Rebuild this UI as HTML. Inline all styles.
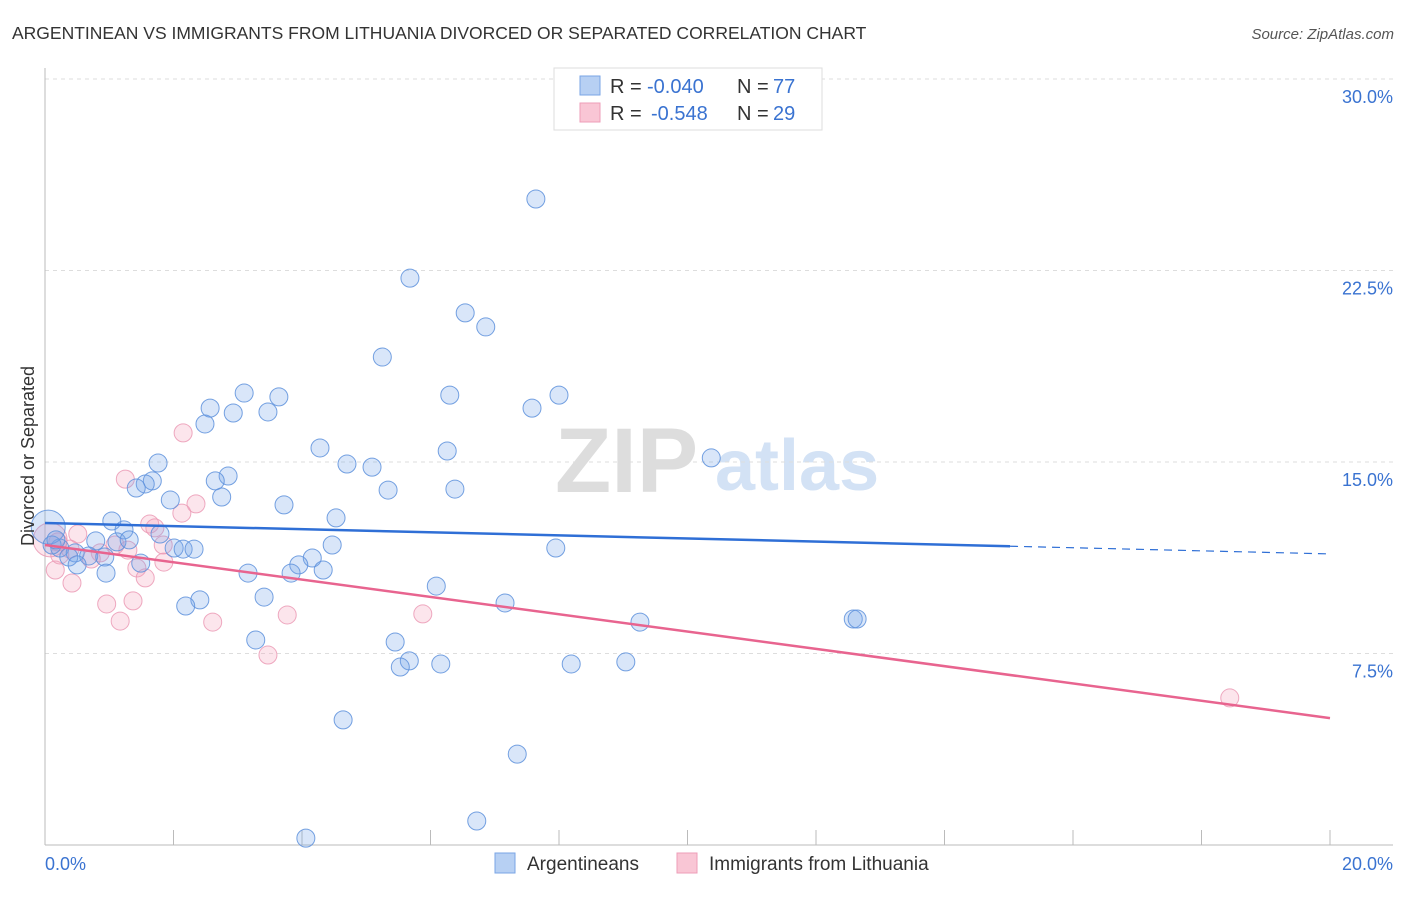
<!DOCTYPE html>
<html><head><meta charset="utf-8"><style>
body{margin:0;background:#fff;font-family:"Liberation Sans",sans-serif}
svg text{font-family:"Liberation Sans",sans-serif}
</style></head><body>
<svg width="1406" height="892" viewBox="0 0 1406 892" id="chart">
<text x="12" y="39" font-size="17.5" fill="#333">ARGENTINEAN VS IMMIGRANTS FROM LITHUANIA DIVORCED OR SEPARATED CORRELATION CHART</text>
<text x="1394" y="39" font-size="15" fill="#555" text-anchor="end" font-style="italic">Source: ZipAtlas.com</text>
<g>
<text x="555" y="492" font-size="92" fill="#ddd" font-family="Liberation Serif,serif" font-weight="bold">ZIP</text>
<text x="715" y="490" font-size="72" fill="#d3e2f5" font-weight="bold">atlas</text>
</g>
<g id="grid"></g>
<g id="axes"></g>
<g id="pts"></g>
<g id="lines"></g>
<text transform="translate(34,456) rotate(-90)" font-size="18" fill="#333" text-anchor="middle">Divorced or Separated</text>
<text x="45" y="870" font-size="18" fill="#3a73d1">0.0%</text>
<text x="1393" y="870" font-size="18" fill="#3a73d1" text-anchor="end">20.0%</text>
<g>
<rect x="554" y="68" width="268" height="62" fill="#fff" stroke="#ddd"/>
<rect x="580" y="76" width="20" height="19" fill="#b7d0f3" stroke="#7aa5e6"/>
<rect x="580" y="103" width="20" height="19" fill="#f9c6d5" stroke="#ee9db8"/>
<text x="610" y="93" font-size="20" fill="#333">R =</text>
<text x="647" y="93" font-size="20" fill="#3a73d1">-0.040</text>
<text x="737" y="93" font-size="20" fill="#333">N =</text>
<text x="773" y="93" font-size="20" fill="#3a73d1">77</text>
<text x="610" y="120" font-size="20" fill="#333">R =</text>
<text x="651" y="120" font-size="20" fill="#3a73d1">-0.548</text>
<text x="737" y="120" font-size="20" fill="#333">N =</text>
<text x="773" y="120" font-size="20" fill="#3a73d1">29</text>
</g>
<g>
<rect x="495" y="853" width="20" height="20" fill="#b7d0f3" stroke="#7aa5e6"/>
<text x="527" y="870" font-size="19" fill="#333">Argentineans</text>
<rect x="677" y="853" width="20" height="20" fill="#f9c6d5" stroke="#ee9db8"/>
<text x="709" y="870" font-size="19" fill="#333">Immigrants from Lithuania</text>
</g>
</svg>
<script>
const yTicks=[7.5,15,22.5,30];
const yTickLabels=["7.5%","15.0%","22.5%","30.0%"];
const xTicks=[2,4,6,8,10,12,14,16,18,20];
const blueX=[7.64,5.68,6.54,6.86,5.25,3.10,3.64,6.30,8.00,7.58,2.57,3.47,2.93,2.49,4.28,6.26,10.37,1.76,4.70,5.09,2.85,2.65,1.67,1.56,1.42,5.34,6.38,2.75,1.95,3.72,4.53,1.04,1.23,1.79,0.79,1.12,1.31,4.47,7.95,2.01,2.15,2.32,4.16,3.95,0.23,0.47,0.37,0.68,0.93,0.50,1.49,4.33,3.16,3.83,0.95,6.09,3.41,2.41,2.19,7.16,9.26,12.58,12.64,3.28,5.45,5.67,5.53,6.16,8.19,9.04,4.64,7.35,6.72,4.06,0.05,0.11,0.17];
const blueY=[25.3,22.2,20.84,20.29,19.11,17.70,17.55,17.62,17.62,17.11,17.11,16.96,16.92,16.49,15.55,15.43,15.16,14.96,14.92,14.80,14.45,14.26,14.26,14.14,13.98,13.90,13.94,13.63,13.51,13.32,12.81,12.69,12.34,12.18,11.91,11.87,11.95,11.75,11.63,11.63,11.59,11.59,11.24,10.97,11.63,11.44,11.28,11.32,11.28,10.97,11.04,10.77,10.65,10.65,10.65,10.14,9.71,9.60,9.36,9.48,8.73,8.85,8.85,8.03,7.95,7.21,6.97,7.09,7.09,7.17,4.90,3.56,0.94,0.27,12.45,11.75,11.95];
const pinkX=[2.15,1.25,2.35,2.13,1.63,1.71,0.51,0.20,1.09,0.39,0.86,0.72,1.29,1.84,0.16,1.43,1.85,0.42,1.56,0.96,1.37,1.17,2.61,3.77,5.88,3.47,18.44,0.08,0.23];
const pinkY=[16.14,14.33,13.36,13.00,12.57,12.42,12.18,11.87,11.75,11.59,11.44,11.20,11.55,11.75,10.77,10.85,11.08,10.26,10.46,9.44,9.56,8.77,8.73,9.01,9.05,7.44,5.76,11.95,11.36];
const blueTrend=[12.61,11.40];
const pinkTrend=[11.75,4.97];
const blueSolidEnd=15.02;
const NS="http://www.w3.org/2000/svg";
const sx=v=>45+v/20*1285, sy=v=>845-v/7.5*191.5;
function mk(t,a,p){const e=document.createElementNS(NS,t);for(const k in a)e.setAttribute(k,a[k]);p.appendChild(e);return e;}
const grid=document.getElementById('grid'),axes=document.getElementById('axes'),pts=document.getElementById('pts'),lines=document.getElementById('lines');
yTicks.forEach((t,i)=>{
 const l=mk('line',{x1:45,x2:1393,y1:sy(t),y2:sy(t),stroke:'#ddd','stroke-dasharray':'4,4'},grid);
 
 
 const tx=mk('text',{x:1393,y:sy(t)+24,'font-size':18,fill:'#3a73d1','text-anchor':'end'},grid);
 tx.textContent=yTickLabels[i];
 
 
});
let a=mk('line',{x1:45,x2:45,y1:68,y2:845,stroke:'#bbb'},axes);


a=mk('line',{x1:45,x2:1393,y1:845,y2:845,stroke:'#bbb'},axes);


xTicks.forEach(t=>{const l=mk('line',{x1:sx(t),x2:sx(t),y1:830,y2:845,stroke:'#bbb'},axes);
 
 });
function dots(X,Y,fill,stroke,name){X.forEach((x,i)=>{const big=(i===X.length-(name==='blue-point'?3:2));
 const c=mk('circle',{cx:sx(x),cy:sy(Y[i]),r:big?17:9,fill:fill,stroke:stroke,'stroke-width':1},pts);
 
 });}
dots(pinkX,pinkY,'rgba(244,160,188,0.28)','rgba(235,154,181,0.85)','lithuania-point');
dots(blueX,blueY,'rgba(120,165,235,0.28)','rgba(93,144,220,0.85)','blue-point');
const bAt=v=>blueTrend[0]+(blueTrend[1]-blueTrend[0])*v/20;
let l=mk('line',{x1:sx(0),y1:sy(blueTrend[0]),x2:sx(blueSolidEnd),y2:sy(bAt(blueSolidEnd)),stroke:'#2f6fd6','stroke-width':2.5},lines);


l=mk('line',{x1:sx(blueSolidEnd),y1:sy(bAt(blueSolidEnd)),x2:sx(20),y2:sy(blueTrend[1]),stroke:'#2f6fd6','stroke-width':1.2,'stroke-dasharray':'8,6'},lines);


l=mk('line',{x1:sx(0),y1:sy(pinkTrend[0]),x2:sx(20),y2:sy(pinkTrend[1]),stroke:'#e8648f','stroke-width':2.5},lines);


</script>
</body></html>
